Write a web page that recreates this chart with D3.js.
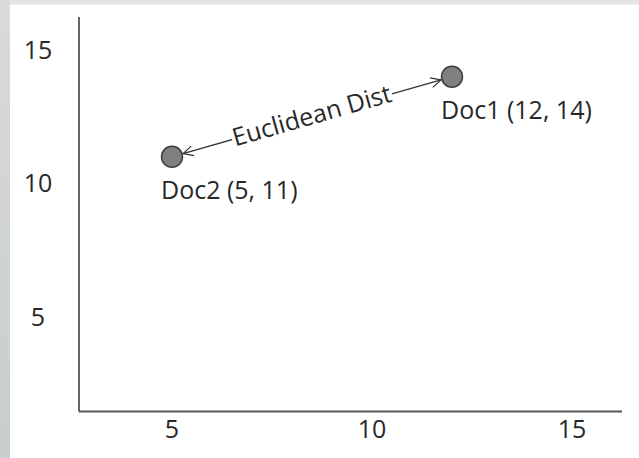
<!DOCTYPE html>
<html>
<head>
<meta charset="utf-8">
<script src="https://cdn.jsdelivr.net/npm/d3@7"></script>
<style>
  html, body { margin: 0; padding: 0; background: #fff; }
  svg { display: block; }
  text { font-family: "Open Sans", sans-serif; fill: #282828; }
</style>
</head>
<body>
<svg id="chart" width="639" height="458"></svg>
<script>
// ---- data ----
const docNames = ["Doc1", "Doc2"];
const docX = [12, 5];
const docY = [14, 11];
const xTickValues = [5, 10, 15];
const yTickValues = [5, 10, 15];
const arrowLabel = "Euclidean Dist";

// ---- layout ----
const W = 639, H = 458;
const frame = { left: 79, right: 622, top: 17, bottom: 411.5 };
const svg = d3.select("#chart");

// background frame strips
const defs = svg.append("defs");
const g1 = defs.append("linearGradient").attr("id", "leftGrad")
  .attr("x1", 0).attr("y1", 0).attr("x2", 0).attr("y2", 1);
g1.append("stop").attr("offset", "0%").attr("stop-color", "#d8dadb");
g1.append("stop").attr("offset", "100%").attr("stop-color", "#c9cdcf");
svg.append("rect").attr("x", 0).attr("y", 0).attr("width", W).attr("height", H).attr("fill", "#fff");
svg.append("rect").attr("x", 0).attr("y", 0).attr("width", W).attr("height", 4.5).attr("fill", "#e3e4e5");
svg.append("rect").attr("x", 0).attr("y", 0).attr("width", 10).attr("height", H).attr("fill", "url(#leftGrad)");

// scales
const x = d3.scaleLinear().domain([5, 15]).range([172, 572]);
const y = d3.scaleLinear().domain([5, 15]).range([317, 50]);

// axes lines
svg.append("line")
  .attr("x1", frame.left).attr("x2", frame.left)
  .attr("y1", frame.top).attr("y2", frame.bottom)
  .attr("stroke", "#555").attr("stroke-width", 1.8);
svg.append("line")
  .attr("x1", frame.left).attr("x2", frame.right)
  .attr("y1", frame.bottom).attr("y2", frame.bottom)
  .attr("stroke", "#555").attr("stroke-width", 1.8);

// tick labels
svg.append("g").selectAll("text").data(xTickValues).join("text")
  .attr("x", d => x(d)).attr("y", 438)
  .attr("text-anchor", "middle")
  .attr("font-size", 25)
  .text(d => d);
svg.append("g").selectAll("text").data(yTickValues).join("text")
  .attr("x", 38).attr("y", d => y(d))
  .attr("dy", "0.35em")
  .attr("text-anchor", "middle")
  .attr("font-size", 25)
  .text(d => d);

// arrow between points
const docs = docNames.map((n, i) => ({ name: n, vx: docX[i], vy: docY[i] }));
const r = 10.5;
const p1 = { x: x(docs[0].vx), y: y(docs[0].vy) };
const p2 = { x: x(docs[1].vx), y: y(docs[1].vy) };
const dx = p2.x - p1.x, dy = p2.y - p1.y;
const len = Math.hypot(dx, dy);
const ux = dx / len, uy = dy / len;
const a1 = { x: p1.x + ux * (r + 1), y: p1.y + uy * (r + 1) };
const a2 = { x: p2.x - ux * (r + 1), y: p2.y - uy * (r + 1) };

defs.append("marker").attr("id", "openArrow")
  .attr("viewBox", "0 0 12 12").attr("refX", 11).attr("refY", 6)
  .attr("markerWidth", 12).attr("markerHeight", 12)
  .attr("markerUnits", "userSpaceOnUse")
  .attr("orient", "auto-start-reverse")
  .append("path").attr("d", "M1,1 L11,6 L1,11")
  .attr("fill", "none").attr("stroke", "#333").attr("stroke-width", 1.2);

svg.append("line")
  .attr("x1", a1.x).attr("y1", a1.y).attr("x2", a2.x).attr("y2", a2.y)
  .attr("stroke", "#333").attr("stroke-width", 1.3)
  .attr("marker-start", "url(#openArrow)")
  .attr("marker-end", "url(#openArrow)");

// label on arrow
const mid = { x: (p1.x + p2.x) / 2, y: (p1.y + p2.y) / 2 };
const angle = Math.atan2(p1.y - p2.y, p1.x - p2.x) * 180 / Math.PI;
const lg = svg.append("g").attr("transform", `translate(${mid.x},${mid.y}) rotate(${angle})`);
const bg = lg.append("rect").attr("fill", "#fff");
const lt = lg.append("text")
  .attr("text-anchor", "middle")
  .attr("dy", "0.3em")
  .attr("font-size", 25)
  .text(arrowLabel);
const tl = lt.node().getComputedTextLength();
bg.attr("x", -tl / 2 - 1).attr("y", -10).attr("width", tl + 2).attr("height", 20);

// points
svg.append("g").selectAll("circle").data(docs).join("circle")
  .attr("cx", d => x(d.vx)).attr("cy", d => y(d.vy)).attr("r", r)
  .attr("fill", "#808080").attr("stroke", "#3f3f3f").attr("stroke-width", 1.5);

svg.append("g").selectAll("text").data(docs).join("text")
  .attr("x", d => x(d.vx) - 11).attr("y", d => y(d.vy) + 42)
  .attr("font-size", 25)
  .text(d => `${d.name} (${d.vx}, ${d.vy})`);
</script>
</body>
</html>
